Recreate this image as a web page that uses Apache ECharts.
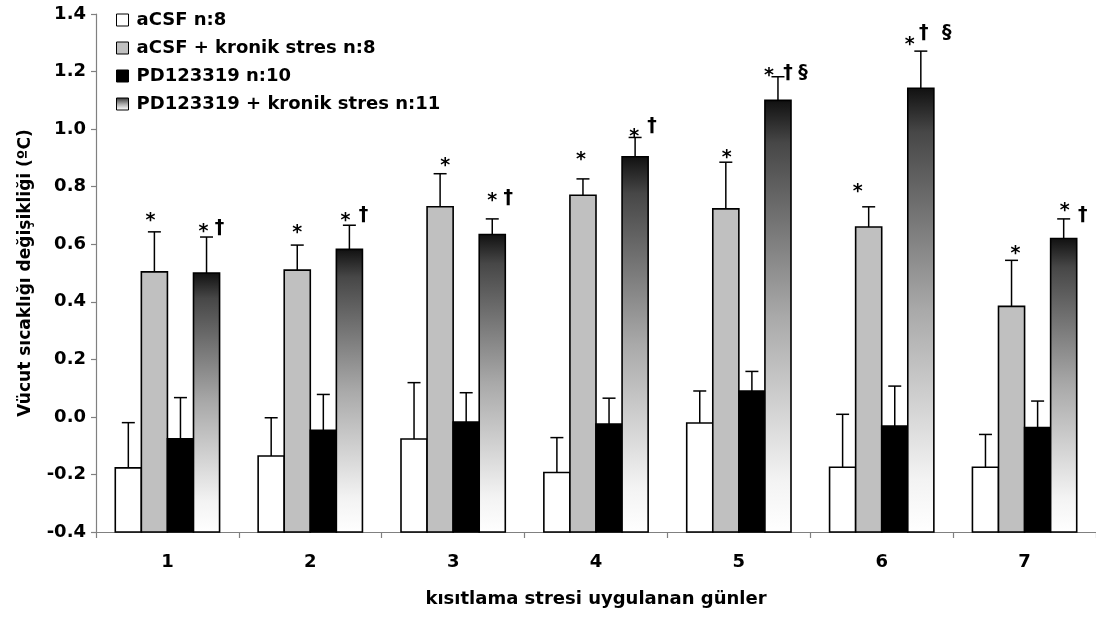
<!DOCTYPE html>
<html>
<head>
<meta charset="utf-8">
<script src="https://cdn.jsdelivr.net/npm/echarts@6/dist/echarts.min.js"></script>
<style>
  html, body { margin: 0; padding: 0; background: #ffffff; }
  #chart { width: 1096px; height: 621px; }
</style>
</head>
<body>
<div id="chart"></div>
<script>
// Days of restraint stress
const days = ['1', '2', '3', '4', '5', '6', '7'];

// Group names (legend)
const groupNames = [
  'aCSF n:8',
  'aCSF + kronik stres n:8',
  'PD123319 n:10',
  'PD123319 + kronik stres n:11'
];

// Mean body temperature change (°C) and SEM per day
const acsfMean = [-0.177, -0.136, -0.077, -0.193, -0.021, -0.175, -0.175];
const acsfSem = [0.157, 0.133, 0.196, 0.121, 0.111, 0.184, 0.114];

const acsfStressMean = [0.504, 0.510, 0.730, 0.770, 0.723, 0.660, 0.384];
const acsfStressSem = [0.139, 0.087, 0.115, 0.057, 0.162, 0.070, 0.160];

const pdMean = [-0.076, -0.047, -0.018, -0.025, 0.090, -0.032, -0.037];
const pdSem = [0.143, 0.125, 0.102, 0.090, 0.068, 0.139, 0.092];

const pdStressMean = [0.500, 0.582, 0.634, 0.904, 1.100, 1.142, 0.620];
const pdStressSem = [0.125, 0.084, 0.054, 0.067, 0.082, 0.129, 0.068];

// Significance marks above the error bars
const acsfMarks = ['', '', '', '', '', '', ''];
const acsfStressMarks = ['*', '*', '*', '*', '*', '*', '*'];
const pdMarks = ['', '', '', '', '', '', ''];
const pdStressMarks = ['*†', '*†', '*†', '*†', '*†§', '*†§', '*†'];

// Y axis range and ticks
const yMin = -0.4;
const yMax = 1.4;
const yStep = 0.2;

// ---- styling / layout ----
const FONT = '"DejaVu Sans", "Liberation Sans", Arial, sans-serif';
const AXIS_GRAY = '#808080';
const CATEGORY_GAP = 0.27;

const stressGradient = () => new echarts.graphic.LinearGradient(0, 0, 0, 1, [
  { offset: 0, color: '#101010' },
  { offset: 0.1, color: '#474747' },
  { offset: 0.5, color: '#a9a9a9' },
  { offset: 0.88, color: '#f3f3f3' },
  { offset: 1, color: '#ffffff' }
]);
const fills = ['#ffffff', '#c0c0c0', '#000000', stressGradient()];

// Offsets of each mark symbol relative to (bar centre, error cap): [dx, dy] per symbol
const markOffsets = {
  1: [[[-4, -15]], [[0, -16]], [[5, -12]], [[-2, -23]], [[1, -8]], [[-11, -19]], [[4, -10]]],
  3: [
    [[-3, -9], [13, -9]],
    [[-4, -8], [14, -10]],
    [[0, -22], [16, -21]],
    [[-1, -4], [17, -11]],
    [[-9, -5], [10, -4], [25, -4]],
    [[-11, -10], [3, -18], [26, -18]],
    [[1, -12], [19, -4]]
  ]
};
// asterisk glyph sits high in its em box; shift its anchor down
const glyphShift = { '*': 4, '†': 0, '§': 0 };

const means = [acsfMean, acsfStressMean, pdMean, pdStressMean];
const sems = [acsfSem, acsfStressSem, pdSem, pdStressSem];
const marks = [acsfMarks, acsfStressMarks, pdMarks, pdStressMarks];

function makeRenderer(k) {
  return function (params, api) {
    const cat = api.value(0);
    const val = api.value(1);
    const err = api.value(2);
    const top = api.coord([cat, val]);
    const base = api.coord([cat, yMin]);
    const capPt = api.coord([cat, val + err]);
    const band = api.size([1, 0])[0];
    const bw = band * (1 - CATEGORY_GAP) / 4;
    const cx = top[0] - 2 * bw + (k + 0.5) * bw;
    const children = [
      {
        type: 'rect',
        shape: { x: cx - bw / 2, y: top[1], width: bw, height: base[1] - top[1] },
        style: { fill: k === 3 ? stressGradient() : fills[k], stroke: '#000', lineWidth: 1.6 }
      },
      {
        type: 'line',
        shape: { x1: cx, y1: top[1], x2: cx, y2: capPt[1] },
        style: { stroke: '#000', lineWidth: 1.5 }
      },
      {
        type: 'line',
        shape: { x1: cx - 6.5, y1: capPt[1], x2: cx + 6.5, y2: capPt[1] },
        style: { stroke: '#000', lineWidth: 1.5 }
      }
    ];
    const text = marks[k][params.dataIndex];
    const offs = (markOffsets[k] || [])[params.dataIndex] || [];
    Array.from(text).forEach(function (ch, j) {
      const o = offs[j] || [j * 16, -10];
      children.push({
        type: 'text',
        x: cx + o[0],
        y: capPt[1] + o[1] + (glyphShift[ch] || 0),
        style: {
          text: ch,
          fill: '#000',
          fontSize: 19,
          fontWeight: 'bold',
          fontFamily: FONT,
          align: 'center',
          verticalAlign: 'middle'
        }
      });
    });
    return { type: 'group', children: children };
  };
}

const series = groupNames.map(function (name, k) {
  return {
    name: name,
    type: 'custom',
    renderItem: makeRenderer(k),
    encode: { x: 0, y: 1 },
    itemStyle: { color: fills[k], borderColor: '#000', borderWidth: 1 },
    data: days.map(function (d, i) { return [i, means[k][i], sems[k][i]]; }),
    z: 2 + k
  };
});

const chart = echarts.init(document.getElementById('chart'), null, { renderer: 'canvas' });
chart.setOption({
  animation: false,
  backgroundColor: '#ffffff',
  textStyle: { fontFamily: FONT },
  grid: { left: 96, right: 0, top: 14, bottom: 89, containLabel: false },
  legend: {
    orient: 'vertical',
    left: 116,
    top: 10,
    padding: 0,
    itemWidth: 12,
    itemHeight: 12,
    itemGap: 8,
    icon: 'rect',
    data: groupNames.map(function (n, k) {
      return { name: n, itemStyle: { color: fills[k], borderColor: '#000', borderWidth: 1 } };
    }),
    textStyle: {
      color: '#000',
      fontSize: 18,
      fontWeight: 'bold',
      fontFamily: FONT,
      lineHeight: 20,
      padding: [0, 0, 0, 3]
    },
    selectedMode: false
  },
  xAxis: {
    type: 'category',
    data: days,
    boundaryGap: true,
    name: 'kısıtlama stresi uygulanan günler',
    nameLocation: 'middle',
    nameGap: 58,
    nameTextStyle: { color: '#000', fontSize: 18, fontWeight: 'bold', fontFamily: FONT },
    axisLine: { onZero: false, lineStyle: { color: AXIS_GRAY, width: 1.2 } },
    axisTick: { show: true, length: 6, lineStyle: { color: AXIS_GRAY, width: 1.2 } },
    axisLabel: { color: '#000', fontSize: 18, fontWeight: 'bold', fontFamily: FONT, margin: 21 },
    splitLine: { show: false }
  },
  yAxis: {
    type: 'value',
    min: yMin,
    max: yMax,
    interval: yStep,
    name: 'Vücut sıcaklığı değişikliği (ºC)',
    nameLocation: 'middle',
    nameGap: 62,
    nameTextStyle: { color: '#000', fontSize: 17, fontWeight: 'bold', fontFamily: FONT },
    axisLine: { show: true, lineStyle: { color: AXIS_GRAY, width: 1.2 } },
    axisTick: { show: true, length: 5, lineStyle: { color: AXIS_GRAY, width: 1.2 } },
    axisLabel: {
      color: '#000', fontSize: 18, fontWeight: 'bold', fontFamily: FONT, margin: 10,
      formatter: function (v) { return v.toFixed(1); }
    },
    splitLine: { show: false }
  },
  series: series
});
</script>
</body>
</html>
